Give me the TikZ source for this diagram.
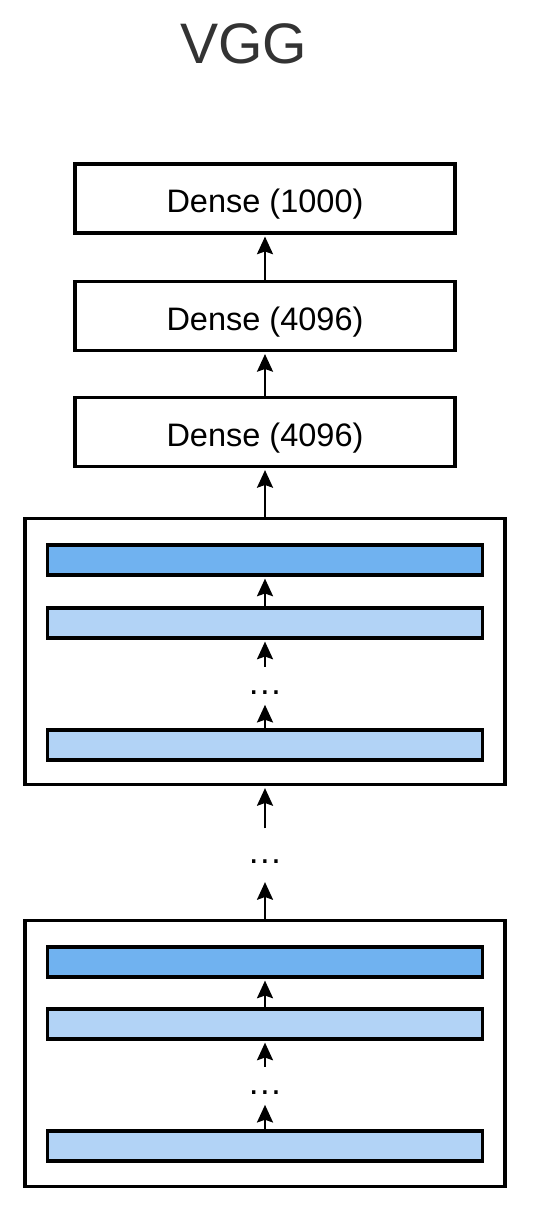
\documentclass[tikz,border=0pt]{standalone}
\usepackage{fontspec}
\setmainfont{Liberation Sans}
\usetikzlibrary{arrows.meta,positioning}

\definecolor{convdark}{RGB}{112,178,240}
\definecolor{convlight}{RGB}{178,211,246}
\definecolor{titlegray}{RGB}{51,51,51}

\begin{document}
\begin{tikzpicture}[->,>={Stealth[length=10pt,width=9pt,inset=1.5pt]},shorten >=1pt,line width=1.6pt,
  dense node/.style={rectangle,draw,fill=white,line width=2pt,minimum width=7.6cm,minimum height=1.38cm,text height=20pt,text depth=4pt,font=\fontsize{18.5}{22}\selectfont},
  block node/.style={rectangle,draw,line width=2pt,minimum width=9.6cm,minimum height=5.32cm},
  conv node/.style={rectangle,draw,line width=2pt,minimum width=8.7cm,minimum height=0.6cm,inner sep=0pt},
  dots node/.style={inner sep=0pt,font=\fontsize{20}{24}\selectfont,text height=15pt,text depth=4pt}]
  \useasboundingbox (0,0) rectangle (10.76,-24.48);
  \node[font=\fontsize{32.5}{38}\selectfont,text=titlegray] (title) at (4.87,-0.88) {VGG};
  % fully connected part
  \node[dense node] (d1) at (5.3,-3.97) {Dense (1000)};
  \node[dense node] (d2) [below=0.90cm of d1] {Dense (4096)};
  \node[dense node] (d3) [below=0.87cm of d2] {Dense (4096)};
  % vgg blocks
  \node[block node] (blk1) [below=0.97cm of d3] {};
  \node[conv node,fill=convdark] (b11) [below=0.53cm of blk1.north] {};
  \node[conv node,fill=convlight] (b12) [below=0.59cm of b11] {};
  \node[dots node] (dots1) [below=0.54cm of b12] {\dots};
  \node[conv node,fill=convlight] (b13) [below=1.77cm of b12] {};
  \node[dots node,text height=19pt,text depth=9pt] (dotsm) [below=0.84cm of blk1] {\dots};
  \node[block node] (blk2) [below=2.65cm of blk1] {};
  \node[conv node,fill=convdark] (b21) [below=0.53cm of blk2.north] {};
  \node[conv node,fill=convlight] (b22) [below=0.57cm of b21] {};
  \node[dots node] (dots2) [below=0.52cm of b22] {\dots};
  \node[conv node,fill=convlight] (b23) [below=1.77cm of b22] {};
  \path
    (d2) edge (d1)
    (d3) edge (d2)
    (blk1) edge (d3)
    (b12) edge (b11)
    (dots1) edge (b12)
    (b13) edge (dots1)
    (dotsm) edge (blk1)
    (blk2) edge (dotsm)
    (b22) edge (b21)
    (dots2) edge (b22)
    (b23) edge (dots2);
\end{tikzpicture}
\end{document}
